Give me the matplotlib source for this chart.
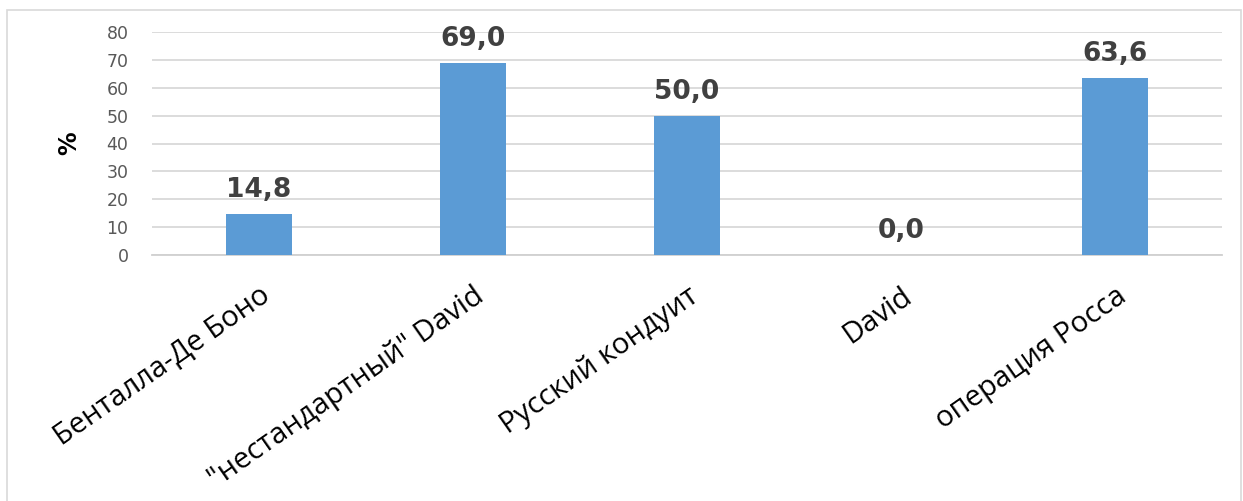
import matplotlib
matplotlib.use("Agg")
import matplotlib.pyplot as plt
from matplotlib.patches import Rectangle

categories = ["Бенталла-Де Боно", "\"нестандартный\" David", "Русский кондуит", "David", "операция Росса"]
values = [14.8, 69.0, 50.0, 0.0, 63.6]
value_labels = ["14,8", "69,0", "50,0", "0,0", "63,6"]
yticks = [0, 10, 20, 30, 40, 50, 60, 70, 80]

W, H = 1243, 501
fig = plt.figure(figsize=(W / 100, H / 100), dpi=100)
fig.patch.set_facecolor("white")

# outer chart border
fig.patches.append(Rectangle((7 / W, -0.05), (1241 - 7) / W, (H - 10) / H + 0.05,
                             transform=fig.transFigure, fill=False,
                             edgecolor="#d9d9d9", linewidth=1.2))

ax = fig.add_axes([152 / W, (H - 255) / H, 1070 / W, 223 / H])
x = list(range(len(categories)))
ax.bar(x, values, width=0.31, color="#5B9BD5", zorder=3)
ax.set_xlim(-0.5, len(categories) - 0.5)
ax.set_ylim(0, 80)
ax.set_yticks(yticks)
ax.set_yticklabels([str(t) for t in yticks], color="#595959", fontsize=12.5,
                   family="DejaVu Sans")
ax.tick_params(axis="y", length=0, pad=17)
ax.grid(axis="y", color="#d9d9d9", linewidth=1.3, zorder=0)
for s in ["top", "right", "left"]:
    ax.spines[s].set_visible(False)
ax.spines["bottom"].set_color("#d0d0d0")
ax.spines["bottom"].set_linewidth(1.3)

ax.set_xticks(x)
ax.set_xticklabels(categories, rotation=35, ha="right", va="top",
                   rotation_mode="anchor", fontsize=21, family="Open Sans",
                   color="black")
ax.tick_params(axis="x", length=0, pad=19)

for xi, v, lab in zip(x, values, value_labels):
    ax.annotate(lab, (xi, v), xytext=(0, 8), textcoords="offset points",
                ha="center", va="bottom", fontsize=19, fontweight="bold",
                color="#404040", family="DejaVu Sans")

ax.set_ylabel("%", fontsize=17, fontweight="bold", color="black", labelpad=18)

fig.savefig("out.png", dpi=100, facecolor="white")
